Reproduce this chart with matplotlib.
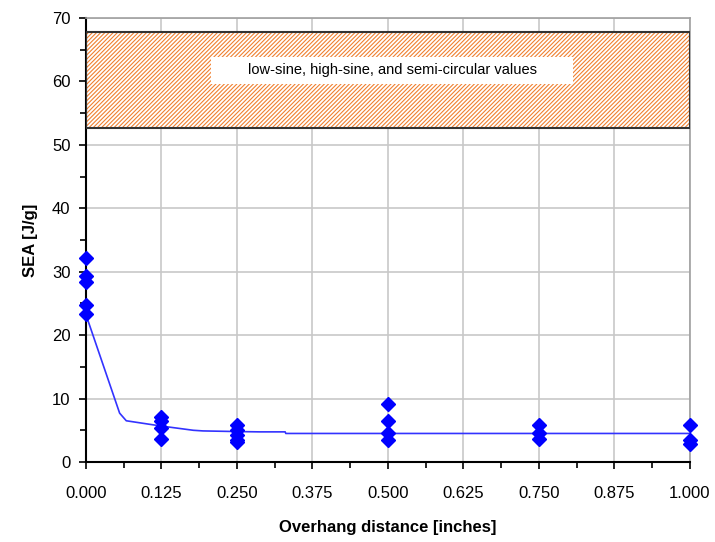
import matplotlib
matplotlib.use("Agg")
import matplotlib.pyplot as plt
from matplotlib.patches import Rectangle
from matplotlib.ticker import MultipleLocator

# measured specimens (overhang distance vs SEA)
pts_x = [0.0, 0.0, 0.0, 0.0, 0.0,
         0.125, 0.125, 0.125, 0.125,
         0.25, 0.25, 0.25, 0.25, 0.25,
         0.5, 0.5, 0.5, 0.5,
         0.75, 0.75, 0.75,
         1.0, 1.0, 1.0]
pts_y = [32.1, 29.3, 28.4, 24.8, 23.3,
         7.1, 6.4, 5.3, 3.6,
         5.8, 5.0, 4.3, 3.5, 3.1,
         9.2, 6.4, 4.6, 3.4,
         5.8, 4.5, 3.7,
         5.8, 3.5, 2.9]

# trend line
fit_x = [0.0, 0.056, 0.067, 0.1225, 0.178, 0.194, 0.25, 0.288, 0.33, 0.331, 1.0]
fit_y = [23.3, 7.7, 6.5, 5.7, 5.0, 4.9, 4.8, 4.75, 4.75, 4.5, 4.5]

# reference band for other geometries
band_lo, band_hi = 52.7, 67.8
band_label = "low-sine, high-sine, and semi-circular values"

plt.rcParams['font.family'] = ['Liberation Sans', 'DejaVu Sans']
plt.rcParams['hatch.color'] = '#f08030'
plt.rcParams['hatch.linewidth'] = 0.8

fig = plt.figure(figsize=(7.15, 5.42), dpi=100)
ax = fig.add_axes([0.120, 0.1476, 0.845, 0.8192])

ax.set_xlim(0, 1.0)
ax.set_ylim(0, 70)
ax.xaxis.set_major_locator(MultipleLocator(0.125))
ax.xaxis.set_minor_locator(MultipleLocator(0.0625))
ax.yaxis.set_major_locator(MultipleLocator(10))
ax.yaxis.set_minor_locator(MultipleLocator(5))
ax.set_xticklabels([f"{v:.3f}" for v in ax.get_xticks()])

ax.grid(True, which='major', color='#c8c8c8', linewidth=1.2, zorder=0)
ax.set_axisbelow(True)

ax.tick_params(which='both', direction='out', length=5, width=1.2, labelsize=12, colors='black')
ax.tick_params(which='minor', length=4)
ax.tick_params(axis='x', pad=12)
ax.tick_params(axis='y', pad=6)
for side in ['top', 'right']:
    ax.spines[side].set_color('#a0a0a0')
    ax.spines[side].set_linewidth(1.2)
for side in ['left', 'bottom']:
    ax.spines[side].set_color('black')
    ax.spines[side].set_linewidth(1.5)

# hatched band
ax.add_patch(Rectangle((0, band_lo), 1.0, band_hi - band_lo, facecolor='white',
                       edgecolor='#f08030', hatch='////////', linewidth=0, zorder=2))
ax.add_patch(Rectangle((0, band_lo), 1.0, band_hi - band_lo, facecolor='none',
                       edgecolor='#333333', linewidth=1.5, zorder=3))
# white label box inside the band
ax.add_patch(Rectangle((0.207, 59.6), 0.599, 4.3, facecolor='white',
                       edgecolor='none', zorder=3))
ax.text(0.507, 61.8, band_label, ha='center', va='center', fontsize=10.5, zorder=4)

ax.plot(fit_x, fit_y, color='#3333ff', linewidth=1.2, zorder=4)
ax.plot(pts_x, pts_y, linestyle='none', marker='D', markersize=7,
        color='#0000ff', clip_on=False, zorder=5)

ax.set_xlabel('Overhang distance [inches]', fontsize=12, fontweight='bold', labelpad=14)
ax.set_ylabel('SEA [J/g]', fontsize=12, fontweight='bold', labelpad=10)

fig.savefig('out.png', dpi=100)
